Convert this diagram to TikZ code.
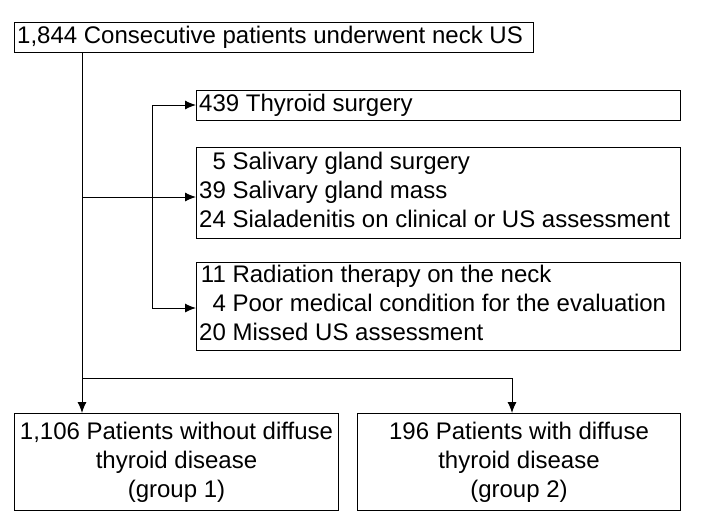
\documentclass[tikz,border=0pt]{standalone}
\usepackage{fontspec}
\setmainfont{Liberation Sans}
\usetikzlibrary{arrows.meta}
\begin{document}
\begin{tikzpicture}[x=1pt,y=-1pt,
  box/.style={draw,line width=1pt,inner sep=0pt,font=\fontsize{24}{29}\selectfont},
  txt/.style={anchor=west,font=\fontsize{24}{29}\selectfont,inner sep=0pt},
  arr/.style={line width=1pt,-{Latex[length=11pt,width=9pt]}},
  ln/.style={line width=1pt}]
\useasboundingbox (0,0) rectangle (701,523);
% boxes
\node[box,minimum width=519,minimum height=30,anchor=north west] (all) at (14,22) {};
\node[txt] at (17,37) {1,844 Consecutive patients underwent neck US};
\node[box,minimum width=484,minimum height=30,anchor=north west] (thy) at (196,90) {};
\node[txt] at (199,105) {439 Thyroid surgery};
\node[box,minimum width=484,minimum height=91,anchor=north west] (sal) at (196,147) {};
\node[txt] at (199,192.5)
  {\begin{tabular}{@{}r@{ }l@{}}5&Salivary gland surgery\\39&Salivary gland mass\\24&Sialadenitis on clinical or US assessment\end{tabular}};
\node[box,minimum width=484,minimum height=88,anchor=north west] (rad) at (196,262) {};
\node[txt] at (199,306)
  {\begin{tabular}{@{}r@{ }l@{}}11&Radiation therapy on the neck\\4&Poor medical condition for the evaluation\\20&Missed US assessment\end{tabular}};
\node[box,minimum width=324,minimum height=97,anchor=north west,align=center] (g1) at (14,413)
  {1,106 Patients without diffuse\\thyroid disease\\(group 1)};
\node[box,minimum width=323,minimum height=97,anchor=north west,align=center] (g2) at (357,413)
  {196 Patients with diffuse\\thyroid disease\\(group 2)};
% connectors
\coordinate (top) at (82,52);
\coordinate (br) at (82,197);
\coordinate (bv) at (152,197);
\coordinate (sp) at (82,378);
\draw[arr] (top) -- (g1.north -| top);
\draw[ln] (br) -- (bv);
\draw[ln] (152,105) -- (152,308);
\draw[arr] (152,105) -- (thy.west |- 0,105);
\draw[arr] (bv) -- (sal.west |- bv);
\draw[arr] (152,308) -- (rad.west |- 0,308);
\draw[ln] (sp) -- (512,378);
\draw[arr] (512,378) -- (512,413);
\end{tikzpicture}
\end{document}
